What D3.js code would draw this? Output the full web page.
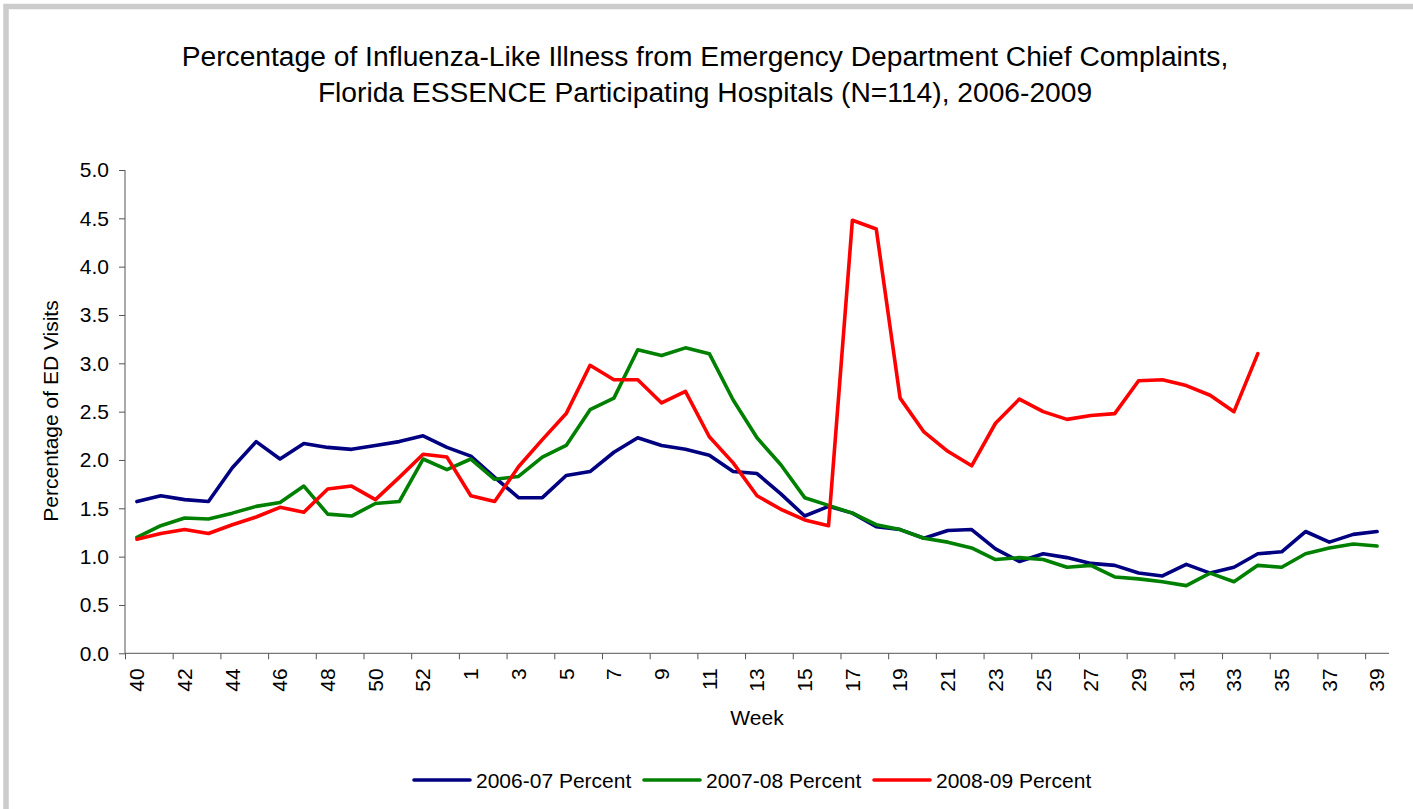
<!DOCTYPE html>
<html>
<head>
<meta charset="utf-8">
<script src="https://cdn.jsdelivr.net/npm/d3@7"></script>
<style>
  body { margin: 0; background: #fff; }
  svg { display: block; font-family: "Liberation Sans", Arial, sans-serif; }
</style>
</head>
<body>
<svg width="1413" height="809"></svg>
<script>
// week categories: season runs week 40 through 53, then 1 through 39
const weeks = d3.range(40, 54).concat(d3.range(1, 40));
const yTicks = [0, 0.5, 1, 1.5, 2, 2.5, 3, 3.5, 4, 4.5, 5];

const pct0607 = [1.57, 1.63, 1.59, 1.57, 1.92, 2.19, 2.01, 2.17, 2.13, 2.11, 2.15, 2.19, 2.25, 2.13, 2.04, 1.82, 1.61,
  1.61, 1.84, 1.88, 2.08, 2.23, 2.15, 2.11, 2.05, 1.88, 1.86, 1.65, 1.42, 1.52, 1.45, 1.31, 1.28,
  1.19, 1.27, 1.28, 1.08, 0.95, 1.03, 0.99, 0.93, 0.91, 0.83, 0.80, 0.92, 0.83, 0.89, 1.03, 1.05, 1.26, 1.15, 1.23, 1.26];
const pct0708 = [1.20, 1.32, 1.40, 1.39, 1.45, 1.52, 1.56, 1.73, 1.44, 1.42, 1.55, 1.57, 2.01, 1.90, 2.01, 1.80, 1.83,
  2.03, 2.15, 2.52, 2.64, 3.14, 3.08, 3.16, 3.10, 2.62, 2.23, 1.95, 1.61, 1.53, 1.45, 1.33, 1.28, 1.19,
  1.15, 1.09, 0.97, 0.99, 0.97, 0.89, 0.91, 0.79, 0.77, 0.74, 0.70, 0.83, 0.74, 0.91, 0.89, 1.03, 1.09, 1.13, 1.11];
const pct0809 = [1.18, 1.24, 1.28, 1.24, 1.33, 1.41, 1.51, 1.46, 1.70, 1.73, 1.59, 1.82, 2.06, 2.03, 1.63, 1.57, 1.93,
  2.21, 2.48, 2.98, 2.83, 2.83, 2.59, 2.71, 2.24, 1.97, 1.63, 1.49, 1.38, 1.32, 4.48, 4.39,
  2.64, 2.29, 2.09, 1.94, 2.38, 2.63, 2.50, 2.42, 2.46, 2.48, 2.82, 2.83, 2.77, 2.67, 2.50, 3.10];

const seriesNames = ['2006-07 Percent', '2007-08 Percent', '2008-09 Percent'];
const seriesColors = ['#000080', '#008000', '#ff0000'];

const svg = d3.select('svg');

// outer frame (only top/left/right visible)
svg.append('rect')
  .attr('x', 6).attr('y', 6.5)
  .attr('width', 1410).attr('height', 830)
  .attr('fill', 'none')
  .attr('stroke', '#cccccc')
  .attr('stroke-width', 5.5);

const plot = { left: 125, right: 1389, top: 170, bottom: 653.3 };

const x = d3.scaleLinear().domain([0, weeks.length]).range([plot.left, plot.right]);
const y = d3.scaleLinear().domain([0, 5]).range([plot.bottom, plot.top]);

// title
const title = svg.append('text')
  .attr('text-anchor', 'middle')
  .style('font-size', '28.2px')
  .attr('fill', '#000');
title.append('tspan').attr('x', 705).attr('y', 66)
  .text('Percentage of Influenza-Like Illness from Emergency Department Chief Complaints,');
title.append('tspan').attr('x', 705).attr('y', 102)
  .text('Florida ESSENCE Participating Hospitals (N=114), 2006-2009');

// y axis
const yAxisG = svg.append('g')
  .attr('transform', `translate(${plot.left},0)`)
  .call(d3.axisLeft(y).tickValues(yTicks).tickFormat(d3.format('.1f')).tickSize(6).tickPadding(10));
yAxisG.selectAll('text').style('font-size', '21px').attr('fill', '#000');
yAxisG.selectAll('line, path').attr('stroke', '#555');
yAxisG.select('.domain').attr('d', `M0,${plot.top}V${plot.bottom}`);

// x axis: ticks between every second week, labels on the week centres
const xAxisG = svg.append('g')
  .attr('transform', `translate(0,${plot.bottom})`)
  .call(d3.axisBottom(x).tickValues(d3.range(0, weeks.length, 2)).tickFormat('').tickSize(6));
xAxisG.selectAll('line, path').attr('stroke', '#555');
xAxisG.select('.domain').attr('d', `M${plot.left},0H${plot.right}`);

svg.append('g').selectAll('text')
  .data(weeks.filter((w, i) => i % 2 === 0))
  .join('text')
  .attr('transform', (d, i) => `translate(${x(i * 2 + 0.5)},${plot.bottom + 15}) rotate(-90)`)
  .attr('text-anchor', 'end')
  .attr('dy', '0.35em')
  .style('font-size', '21px')
  .text(d => d);

// axis titles
svg.append('text')
  .attr('x', (plot.left + plot.right) / 2)
  .attr('y', 725)
  .attr('text-anchor', 'middle')
  .style('font-size', '21px')
  .text('Week');

svg.append('text')
  .attr('transform', `translate(51,411) rotate(-90)`)
  .attr('text-anchor', 'middle')
  .attr('dy', '0.35em')
  .style('font-size', '21px')
  .text('Percentage of ED Visits');

// lines
const line = d3.line()
  .defined(d => d != null)
  .x((d, i) => x(i + 0.5))
  .y(d => y(d));

[pct0607, pct0708, pct0809].forEach((vals, k) => {
  svg.append('path')
    .attr('d', line(weeks.map((w, i) => vals[i] === undefined ? null : vals[i])))
    .attr('fill', 'none')
    .attr('stroke', seriesColors[k])
    .attr('stroke-width', 3.6)
    .attr('stroke-linejoin', 'round')
    .attr('stroke-linecap', 'round');
});

// legend
const legendX = [414, 644, 874];
const legend = svg.append('g');
seriesNames.forEach((name, k) => {
  legend.append('line')
    .attr('x1', legendX[k]).attr('x2', legendX[k] + 56)
    .attr('y1', 780).attr('y2', 780)
    .attr('stroke', seriesColors[k])
    .attr('stroke-width', 3.6)
    .attr('stroke-linecap', 'round');
  legend.append('text')
    .attr('x', legendX[k] + 62)
    .attr('y', 787.5)
    .style('font-size', '21px')
    .text(name);
});
</script>
</body>
</html>
